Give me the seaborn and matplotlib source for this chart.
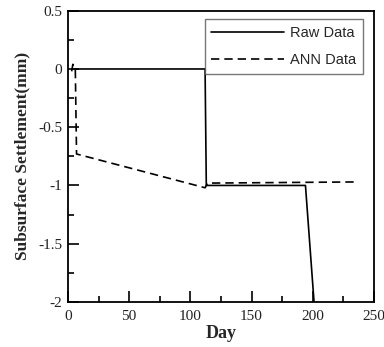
import matplotlib
matplotlib.use("Agg")
import matplotlib.pyplot as plt
import seaborn as sns
import pandas as pd
from matplotlib.ticker import MultipleLocator

# Measured settlement (raw) and network prediction (ANN)
raw_day = [5, 112, 113, 194, 201]
raw_settle = [0.0, 0.0, -1.0, -1.0, -2.0]

ann_day = [3, 4, 6, 7, 112, 114, 235]
ann_settle = [-0.02, 0.04, 0.0, -0.73, -1.02, -0.98, -0.97]

x_ticks = [0, 50, 100, 150, 200, 250]
y_ticks = [0.5, 0, -0.5, -1, -1.5, -2]
y_tick_labels = ["0.5", "0", "-0.5", "-1", "-1.5", "-2"]

sns.set_style("white")

raw = pd.DataFrame({"Day": raw_day, "Settlement": raw_settle})
ann = pd.DataFrame({"Day": ann_day, "Settlement": ann_settle})

fig = plt.figure(figsize=(3.84, 3.47), dpi=100)
ax = fig.add_axes([0.177, 0.130, 0.797, 0.839])

sns.lineplot(data=raw, x="Day", y="Settlement", sort=False, ax=ax,
             color="black", linewidth=1.2, label="Raw Data")
sns.lineplot(data=ann, x="Day", y="Settlement", sort=False, ax=ax,
             color="black", linewidth=1.2, label="ANN Data")
ax.lines[1].set_dashes([5, 3])

ax.set_xlim(0, 250)
ax.set_ylim(-2, 0.5)
ax.set_xticks(x_ticks)
ax.set_yticks(y_ticks)
ax.set_yticklabels(y_tick_labels)
ax.xaxis.set_minor_locator(MultipleLocator(25))
ax.yaxis.set_minor_locator(MultipleLocator(0.25))

ax.tick_params(which="both", direction="in", top=False, right=False,
               bottom=True, left=True, color="black", width=1.2)
ax.tick_params(which="major", length=8)
ax.tick_params(axis="x", which="major", pad=6)
ax.tick_params(axis="y", which="major", pad=4)
ax.tick_params(which="minor", length=4)
for lab in ax.get_xticklabels() + ax.get_yticklabels():
    lab.set_fontfamily("Liberation Serif")
    lab.set_fontsize(11)
    lab.set_color("#222222")

for side in ax.spines.values():
    side.set_color("black")
    side.set_linewidth(1.3)

ax.set_xlabel("Day", fontfamily="Liberation Serif", fontweight="bold",
              fontsize=13, labelpad=1)
ax.set_ylabel("Subsurface Settlement(mm)", fontfamily="Liberation Serif",
              fontweight="bold", fontsize=12.5, labelpad=6)

leg = ax.legend(loc="upper right", bbox_to_anchor=(0.963, 0.97),
                prop={"family": "Liberation Sans", "size": 10.5},
                frameon=True, fancybox=False, handlelength=5.0,
                handletextpad=0.4, borderpad=0.45, labelspacing=0.9,
                borderaxespad=0.0)
leg.get_frame().set_edgecolor("#555555")
leg.get_frame().set_linewidth(1.0)

fig.savefig("out.png", dpi=100)
